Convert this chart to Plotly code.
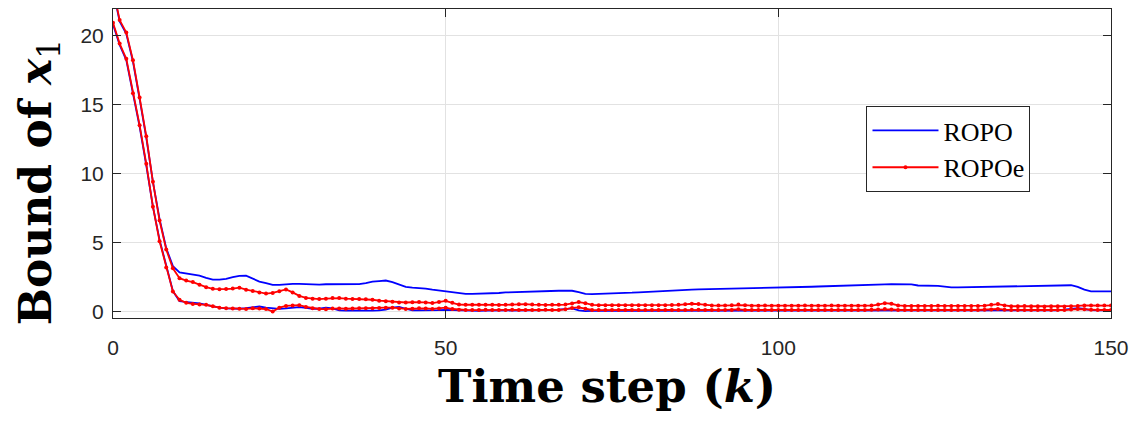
import plotly.graph_objects as go

# ---- data ----
time_step = list(range(0, 151))

ropo_upper = [
    23.3, 21.0, 20.1, 18.1, 15.4, 12.6, 9.4, 6.7, 4.6, 3.3,
    2.85, 2.78, 2.74, 2.62, 2.45, 2.32, 2.33, 2.38, 2.5, 2.6,
    2.62, 2.4, 2.18, 2.08, 1.95, 1.95, 2.0, 2.02, 2.02, 2.0,
    1.96, 1.97, 1.99, 1.99, 1.96, 1.95, 1.97, 2.0, 2.08, 2.18,
    2.22, 2.26, 2.15, 1.95, 1.8, 1.74, 1.72, 1.68, 1.6, 1.53,
    1.48, 1.4, 1.33, 1.3, 1.29, 1.3, 1.31, 1.33, 1.36, 1.4,
    1.42, 1.44, 1.46, 1.48, 1.5, 1.5, 1.51, 1.52, 1.52, 1.52,
    1.42, 1.3, 1.28, 1.29, 1.3, 1.31, 1.33, 1.35, 1.38, 1.41,
    1.44, 1.47, 1.5, 1.52, 1.54, 1.56, 1.58, 1.6, 1.62, 1.63,
    1.64, 1.64, 1.65, 1.65, 1.66, 1.67, 1.68, 1.69, 1.69, 1.7,
    1.71, 1.73, 1.75, 1.77, 1.79, 1.81, 1.83, 1.85, 1.87, 1.88,
    1.9, 1.91, 1.93, 1.94, 1.96, 1.97, 1.98, 1.99, 2.0, 2.0,
    1.98, 1.9, 1.89, 1.9, 1.88, 1.82, 1.76, 1.76, 1.77, 1.77,
    1.78, 1.79, 1.8, 1.81, 1.82, 1.83, 1.85, 1.86, 1.88, 1.89,
    1.9, 1.92, 1.93, 1.95, 1.92, 1.8, 1.6, 1.48, 1.47, 1.47,
    1.47,
]

ropo_lower = [
    20.8, 19.3, 18.2, 15.7, 13.4, 10.6, 7.6, 5.2, 3.3, 1.5,
    0.76, 0.72, 0.68, 0.6, 0.5, 0.38, 0.3, 0.24, 0.21, 0.22,
    0.26, 0.32, 0.38, 0.3, 0.24, 0.21, 0.24, 0.3, 0.34, 0.28,
    0.22, 0.22, 0.3, 0.24, 0.1, 0.08, 0.07, 0.07, 0.07, 0.08,
    0.1, 0.15, 0.3, 0.36, 0.22, 0.1, 0.1, 0.09, 0.1, 0.12,
    0.14, 0.12, 0.1, 0.08, 0.08, 0.07, 0.08, 0.08, 0.07, 0.08,
    0.08, 0.07, 0.08, 0.08, 0.09, 0.1, 0.12, 0.15, 0.2, 0.24,
    0.1, 0.05, 0.06, 0.07, 0.07, 0.08, 0.07, 0.07, 0.08, 0.07,
    0.07, 0.08, 0.07, 0.07, 0.08, 0.07, 0.07, 0.08, 0.07, 0.07,
    0.08, 0.07, 0.07, 0.08, 0.07, 0.07, 0.08, 0.07, 0.07, 0.08,
    0.07, 0.07, 0.08, 0.07, 0.07, 0.08, 0.07, 0.07, 0.08, 0.07,
    0.07, 0.08, 0.07, 0.07, 0.08, 0.07, 0.06, 0.06, 0.07, 0.07,
    0.08, 0.07, 0.07, 0.08, 0.07, 0.07, 0.08, 0.07, 0.07, 0.08,
    0.07, 0.07, 0.08, 0.06, 0.07, 0.08, 0.07, 0.07, 0.08, 0.07,
    0.07, 0.08, 0.1, 0.15, 0.22, 0.26, 0.2, 0.12, 0.1, 0.1,
    0.1,
]

ropoe_upper = [
    23.4, 21.1, 20.2, 18.2, 15.5, 12.7, 9.4, 6.6, 4.5, 3.15,
    2.43, 2.26, 2.15, 1.95, 1.78, 1.66, 1.63, 1.64, 1.68, 1.74,
    1.6, 1.5, 1.4, 1.32, 1.36, 1.48, 1.62, 1.4, 1.15, 1.0,
    0.94, 0.92, 0.95, 0.99, 0.99, 0.95, 0.93, 0.92, 0.9, 0.87,
    0.8, 0.76, 0.72, 0.68, 0.67, 0.69, 0.7, 0.68, 0.63, 0.7,
    0.79, 0.65, 0.52, 0.51, 0.5, 0.5, 0.51, 0.5, 0.49, 0.5,
    0.52, 0.54, 0.55, 0.52, 0.5, 0.49, 0.5, 0.5, 0.52, 0.6,
    0.7, 0.62, 0.5, 0.48, 0.48, 0.47, 0.48, 0.48, 0.47, 0.48,
    0.48, 0.47, 0.48, 0.48, 0.49, 0.5, 0.54, 0.58, 0.56, 0.5,
    0.46, 0.45, 0.46, 0.48, 0.52, 0.48, 0.44, 0.44, 0.45, 0.44,
    0.44, 0.43, 0.44, 0.44, 0.45, 0.44, 0.43, 0.44, 0.45, 0.44,
    0.44, 0.43, 0.44, 0.44, 0.45, 0.52, 0.62, 0.58, 0.46, 0.42,
    0.42, 0.41, 0.42, 0.42, 0.43, 0.42, 0.41, 0.42, 0.42, 0.41,
    0.42, 0.44, 0.5, 0.56, 0.46, 0.4, 0.4, 0.41, 0.4, 0.4,
    0.39, 0.4, 0.4, 0.39, 0.4, 0.42, 0.46, 0.46, 0.45, 0.45,
    0.45,
]

ropoe_lower = [
    20.9, 19.4, 18.3, 15.8, 13.5, 10.7, 7.6, 5.1, 3.2, 1.47,
    0.87, 0.65, 0.57, 0.53, 0.5, 0.4, 0.3, 0.26, 0.24, 0.22,
    0.21, 0.25, 0.24, 0.2, 0.02, 0.3, 0.42, 0.45, 0.48, 0.35,
    0.25, 0.2, 0.19, 0.24, 0.24, 0.22, 0.24, 0.26, 0.25, 0.26,
    0.28, 0.3, 0.3, 0.24, 0.21, 0.22, 0.25, 0.24, 0.21, 0.23,
    0.3, 0.2, 0.14, 0.13, 0.12, 0.13, 0.14, 0.13, 0.12, 0.13,
    0.14, 0.13, 0.13, 0.12, 0.13, 0.14, 0.13, 0.13, 0.18, 0.28,
    0.32, 0.22, 0.13, 0.12, 0.13, 0.13, 0.12, 0.13, 0.13, 0.12,
    0.13, 0.13, 0.12, 0.13, 0.13, 0.12, 0.13, 0.14, 0.14, 0.13,
    0.13, 0.12, 0.13, 0.13, 0.18, 0.13, 0.12, 0.13, 0.13, 0.12,
    0.13, 0.13, 0.12, 0.13, 0.13, 0.12, 0.13, 0.13, 0.12, 0.13,
    0.13, 0.12, 0.13, 0.13, 0.14, 0.16, 0.2, 0.17, 0.13, 0.12,
    0.13, 0.13, 0.12, 0.13, 0.13, 0.12, 0.13, 0.13, 0.12, 0.13,
    0.13, 0.14, 0.17, 0.2, 0.15, 0.13, 0.12, 0.13, 0.13, 0.12,
    0.13, 0.13, 0.12, 0.13, 0.16, 0.2, 0.18, 0.14, 0.13, 0.13,
    0.13,
]

x_ticks = [0, 50, 100, 150]
y_ticks = [0, 5, 10, 15, 20]
series_names = ["ROPO", "ROPOe"]

# ---- figure ----
BLUE = "#0000ff"
RED = "#ff0000"
AXC = "#262626"

fig = go.Figure()
fig.add_trace(go.Scatter(x=time_step, y=ropo_upper, mode="lines", name=series_names[0],
                         line=dict(color=BLUE, width=1.8)))
fig.add_trace(go.Scatter(x=time_step, y=ropo_lower, mode="lines", name=series_names[0],
                         showlegend=False, line=dict(color=BLUE, width=1.8)))
fig.add_trace(go.Scatter(x=time_step, y=ropoe_upper, mode="lines+markers", name=series_names[1],
                         line=dict(color=RED, width=1.8),
                         marker=dict(color=RED, size=4)))
fig.add_trace(go.Scatter(x=time_step, y=ropoe_lower, mode="lines+markers", name=series_names[1],
                         showlegend=False, line=dict(color=RED, width=1.8),
                         marker=dict(color=RED, size=4)))

axis_common = dict(
    showgrid=True, gridcolor="#e2e2e2", gridwidth=1,
    showline=True, linecolor=AXC, linewidth=1, mirror="ticks",
    ticks="inside", ticklen=8, tickcolor=AXC, tickwidth=1,
    tickfont=dict(family="Liberation Sans, Arial, sans-serif", size=21, color=AXC),
    zeroline=False, automargin=False,
)

# the page body has an 8px default margin, so the figure is sized 8px smaller
fig.update_layout(
    width=1130, height=416, autosize=False,
    margin=dict(l=105, r=27, t=1, b=106),
    paper_bgcolor="white", plot_bgcolor="white",
    xaxis=dict(range=[0, 150], tickvals=x_ticks, ticklabelstandoff=11, **axis_common),
    yaxis=dict(range=[-0.45, 21.9], tickvals=y_ticks, ticklabelstandoff=4, **axis_common),
    legend=dict(
        x=0.755, y=0.686, xanchor="left", yanchor="top",
        bgcolor="white", bordercolor=AXC, borderwidth=1,
        font=dict(family="Liberation Serif, Times New Roman, serif", size=26, color="black"),
        tracegroupgap=0, itemwidth=66,
    ),
    showlegend=True,
    annotations=[
        dict(text="<b>Bound of <i>x</i></b><sub>1</sub>", textangle=-90,
             xref="paper", yref="paper", x=-0.075, y=0.44,
             xanchor="center", yanchor="middle", showarrow=False,
             font=dict(family="DejaVu Serif, serif", size=44, color="black")),
        dict(text="<b>Time step (<i>k</i>)</b>",
             xref="paper", yref="paper", x=0.495, y=-0.222,
             xanchor="center", yanchor="middle", showarrow=False,
             font=dict(family="DejaVu Serif, serif", size=45, color="black")),
    ],
)

fig.write_html("out.html")
